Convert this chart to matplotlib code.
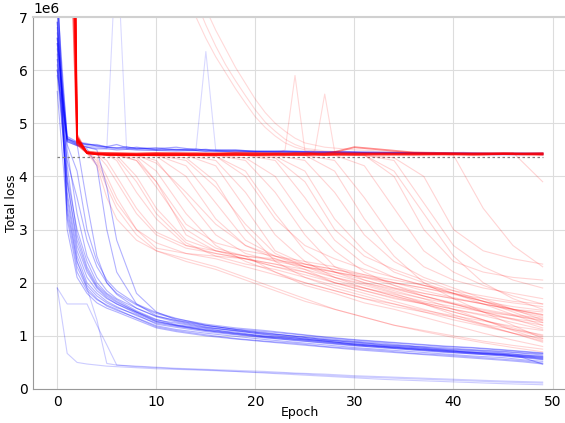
import matplotlib
matplotlib.use("Agg")
import matplotlib.pyplot as plt
import numpy as np

# epochs used by each group of runs (in units of 1e6)
band_epochs = [0, 1, 2, 3, 4, 5, 6, 8, 10, 12, 15, 18, 21, 24, 27, 30, 33, 36, 39, 42, 45, 47, 49]
plateau_epochs = [0, 1, 2, 3, 4, 5, 6, 7, 8, 10, 12, 14, 15, 16, 18, 20, 23, 26, 29, 32, 35, 38, 41, 44, 47, 49]
escape_epochs = [0, 1, 2, 3, 4, 5, 6, 8, 10, 13, 16, 19, 22, 25, 28, 31, 34, 37, 40, 43, 46, 49]
red_flat_epochs = [0, 1, 2, 3, 4, 5, 6, 8, 10, 12, 14, 16, 18, 20, 22, 23, 24, 25, 26, 27, 28, 30, 33, 36, 39, 42, 45, 47, 49]
red_high_epochs = [0, 1, 2, 3, 4, 6, 8, 10, 12, 13, 14, 15, 16, 17, 18, 19, 20, 21, 22, 23, 24, 25, 27, 30, 35, 40, 45, 49]

# blue runs that converge to the low band
blue_band = [
    [6.3, 3.6, 2.5, 2.0, 1.8, 1.65, 1.55, 1.38, 1.24, 1.18, 1.1, 1.04, 0.98, 0.93, 0.89, 0.83, 0.79, 0.75, 0.71, 0.68, 0.64, 0.61, 0.58],
    [6.8, 4.2, 2.9, 2.3, 1.95, 1.78, 1.65, 1.45, 1.3, 1.24, 1.15, 1.1, 1.05, 0.99, 0.93, 0.89, 0.83, 0.8, 0.75, 0.72, 0.68, 0.64, 0.62],
    [7.4, 3.2, 2.2, 1.85, 1.68, 1.58, 1.5, 1.33, 1.17, 1.1, 1.02, 0.95, 0.9, 0.86, 0.8, 0.76, 0.72, 0.67, 0.64, 0.6, 0.56, 0.53, 0.49],
    [5.9, 3.9, 2.7, 2.2, 1.9, 1.72, 1.6, 1.44, 1.27, 1.2, 1.12, 1.07, 0.99, 0.96, 0.9, 0.85, 0.81, 0.78, 0.73, 0.69, 0.65, 0.63, 0.59],
    [6.6, 4.5, 3.3, 2.5, 2.1, 1.85, 1.7, 1.52, 1.37, 1.29, 1.19, 1.13, 1.08, 1.03, 0.97, 0.92, 0.88, 0.84, 0.8, 0.77, 0.73, 0.7, 0.67],
    [7.8, 3.0, 2.1, 1.8, 1.62, 1.52, 1.45, 1.3, 1.15, 1.08, 1.0, 0.94, 0.89, 0.84, 0.79, 0.74, 0.7, 0.66, 0.62, 0.58, 0.54, 0.51, 0.47],
    [6.1, 4.0, 3.0, 2.4, 2.0, 1.8, 1.68, 1.47, 1.31, 1.21, 1.14, 1.05, 1.0, 0.94, 0.91, 0.84, 0.8, 0.76, 0.73, 0.68, 0.65, 0.6, 0.56],
    [6.4, 4.7, 4.6, 3.5, 2.5, 2.0, 1.78, 1.52, 1.36, 1.26, 1.16, 1.09, 1.03, 0.97, 0.92, 0.88, 0.84, 0.8, 0.76, 0.73, 0.7, 0.67, 0.64],
    [6.7, 4.65, 4.58, 4.52, 4.2, 3.0, 2.2, 1.6, 1.38, 1.28, 1.17, 1.1, 1.02, 0.96, 0.9, 0.85, 0.8, 0.76, 0.72, 0.69, 0.66, 0.62, 0.6],
    [7.1, 3.4, 2.4, 1.95, 1.75, 1.62, 1.53, 1.4, 1.22, 1.16, 1.08, 1.02, 0.96, 0.92, 0.86, 0.81, 0.78, 0.73, 0.69, 0.66, 0.62, 0.59, 0.55],
    [6.0, 4.3, 3.6, 2.8, 2.3, 2.0, 1.8, 1.58, 1.42, 1.32, 1.22, 1.15, 1.1, 1.04, 0.98, 0.93, 0.89, 0.85, 0.81, 0.78, 0.74, 0.71, 0.68],
    [6.9, 3.7, 2.6, 2.1, 1.85, 1.7, 1.6, 1.42, 1.26, 1.19, 1.1, 1.03, 0.97, 0.91, 0.87, 0.82, 0.77, 0.74, 0.7, 0.66, 0.63, 0.59, 0.47],
    [6.2, 4.68, 4.6, 4.55, 4.5, 3.8, 2.8, 1.8, 1.45, 1.3, 1.2, 1.12, 1.06, 0.99, 0.93, 0.87, 0.82, 0.78, 0.74, 0.7, 0.67, 0.64, 0.61],
    [7.6, 3.9, 2.8, 2.25, 1.92, 1.75, 1.63, 1.45, 1.28, 1.2, 1.11, 1.05, 0.98, 0.94, 0.88, 0.83, 0.79, 0.75, 0.71, 0.67, 0.64, 0.61, 0.57],
    [6.5, 4.6, 4.1, 3.0, 2.4, 2.05, 1.85, 1.6, 1.44, 1.33, 1.2, 1.12, 1.04, 1.0, 0.95, 0.9, 0.86, 0.81, 0.78, 0.74, 0.71, 0.68, 0.66],
    [5.6, 3.3, 2.3, 1.9, 1.7, 1.56, 1.48, 1.34, 1.19, 1.12, 1.05, 0.99, 0.93, 0.88, 0.83, 0.78, 0.74, 0.7, 0.66, 0.62, 0.59, 0.55, 0.52],
]

# blue runs that end near the bottom
blue_low = [
    [1.9, 0.67, 0.5, 0.47, 0.45, 0.43, 0.42, 0.4, 0.38, 0.37, 0.35, 0.33, 0.31, 0.29, 0.26, 0.23, 0.21, 0.19, 0.17, 0.15, 0.13, 0.12, 0.11],
    [1.9, 1.6, 1.6, 1.6, 1.2, 0.83, 0.45, 0.42, 0.4, 0.38, 0.36, 0.33, 0.3, 0.27, 0.24, 0.21, 0.18, 0.16, 0.14, 0.12, 0.1, 0.09, 0.08],
    [6.5, 3.5, 2.4, 1.9, 1.3, 0.48, 0.45, 0.43, 0.41, 0.39, 0.37, 0.35, 0.33, 0.3, 0.28, 0.25, 0.23, 0.21, 0.19, 0.17, 0.15, 0.14, 0.13],
]

# blue runs stuck on the plateau
blue_plateau = [
    [6.9, 4.75, 4.65, 4.6, 4.58, 4.56, 4.6, 4.54, 4.53, 4.52, 4.55, 4.5, 4.51, 4.49, 4.5, 4.47, 4.48, 4.46, 4.47, 4.45, 4.44, 4.45, 4.43, 4.44, 4.43, 4.42],
    [6.0, 4.66, 4.58, 4.55, 4.52, 4.52, 4.5, 4.51, 4.5, 4.49, 4.48, 4.49, 4.47, 4.48, 4.46, 4.46, 4.45, 4.44, 4.44, 4.43, 4.43, 4.42, 4.42, 4.41, 4.41, 4.42],
    [7.3, 4.7, 4.64, 4.62, 4.57, 4.55, 4.54, 4.52, 4.55, 4.5, 4.51, 4.49, 4.5, 4.47, 4.48, 4.46, 4.47, 4.45, 4.46, 4.44, 4.44, 4.43, 4.43, 4.42, 4.43, 4.41],
    [6.6, 4.72, 4.62, 4.6, 4.6, 4.55, 4.53, 4.56, 4.52, 4.54, 4.5, 4.52, 4.49, 4.5, 4.49, 4.48, 4.47, 4.47, 4.45, 4.46, 4.45, 4.44, 4.45, 4.43, 4.44, 4.44],
]

# blue plateau runs with a single spike
blue_spikes = [
    [6.5, 4.72, 4.62, 4.58, 4.55, 4.52, 8.5, 4.52, 4.5, 4.49, 4.5, 4.48, 4.47, 4.48, 4.46, 4.47, 4.45, 4.46, 4.44, 4.45, 4.44, 4.43, 4.44, 4.43, 4.44, 4.43],
    [6.2, 4.68, 4.6, 4.56, 4.55, 4.54, 4.53, 4.55, 4.52, 4.51, 4.5, 4.5, 6.35, 4.49, 4.48, 4.47, 4.46, 4.45, 4.45, 4.44, 4.45, 4.43, 4.43, 4.42, 4.42, 4.44],
]

# red runs that stay on the plateau
red_flat = [
    [12, 20, 4.62, 4.45, 4.43, 4.43, 4.43, 4.42, 4.42, 4.43, 4.42, 4.43, 4.42, 4.43, 4.42, 4.43, 4.42, 4.43, 4.42, 4.43, 4.42, 4.43, 4.42, 4.43, 4.42, 4.43, 4.42, 4.43, 4.43],
    [12, 11, 4.6, 4.44, 4.42, 4.41, 4.42, 4.41, 4.42, 4.41, 4.42, 4.41, 4.42, 4.41, 4.42, 4.41, 4.42, 4.41, 4.42, 4.41, 4.42, 4.41, 4.42, 4.41, 4.42, 4.41, 4.42, 4.41, 4.41],
    [13, 18, 4.68, 4.46, 4.44, 4.44, 4.43, 4.43, 4.44, 4.44, 4.43, 4.43, 4.45, 4.44, 4.43, 4.43, 4.44, 4.44, 4.43, 4.43, 4.46, 4.55, 4.5, 4.45, 4.44, 4.43, 4.44, 4.43, 4.43],
    [13, 14, 4.64, 4.45, 4.43, 4.42, 4.42, 4.41, 4.42, 4.42, 4.41, 4.42, 4.42, 4.41, 4.42, 4.42, 4.41, 4.42, 4.42, 4.41, 4.42, 4.42, 4.41, 4.42, 4.42, 4.41, 4.42, 4.42, 4.41],
    [14, 22, 4.66, 4.47, 4.45, 4.44, 4.44, 4.43, 4.44, 4.43, 4.44, 4.43, 4.44, 4.43, 4.44, 4.43, 4.44, 4.43, 4.44, 4.43, 4.44, 4.43, 4.44, 4.43, 4.44, 4.43, 4.44, 4.43, 4.44],
]

# red plateau runs with a single spike
red_spikes = [
    [13, 16, 4.66, 4.45, 4.43, 4.42, 4.41, 4.42, 4.41, 4.42, 4.41, 4.42, 4.43, 4.41, 4.42, 4.5, 5.9, 4.48, 4.42, 4.41, 4.42, 4.41, 4.42, 4.41, 4.42, 4.41, 4.42, 4.42, 4.41],
    [14, 23, 4.7, 4.46, 4.43, 4.42, 4.42, 4.41, 4.42, 4.41, 4.42, 4.41, 4.42, 4.43, 4.42, 4.41, 4.42, 4.41, 4.48, 5.55, 4.47, 4.42, 4.43, 4.42, 4.41, 4.42, 4.41, 4.42, 4.42],
]

# red runs starting very high and reaching the plateau late
red_high = [
    [14, 13.5, 13, 12.5, 12, 11, 10, 9.2, 8.0, 7.5, 7.0, 6.6, 6.25, 5.95, 5.65, 5.38, 5.12, 4.92, 4.76, 4.63, 4.55, 4.5, 4.46, 4.44, 4.43, 4.42, 4.42, 4.41],
    [14, 13.8, 13.3, 12.8, 12.3, 11.4, 10.4, 9.6, 8.4, 7.8, 7.3, 6.85, 6.45, 6.1, 5.8, 5.52, 5.25, 5.02, 4.85, 4.7, 4.6, 4.53, 4.48, 4.45, 4.44, 4.43, 4.42, 4.42],
    [15, 14.5, 14, 13.5, 13, 12, 11, 10, 8.8, 8.2, 7.6, 7.15, 6.75, 6.4, 6.05, 5.75, 5.45, 5.2, 5.0, 4.85, 4.72, 4.63, 4.55, 4.5, 4.46, 4.44, 4.43, 4.42],
]

# red runs that leave the plateau at different epochs
red_escape = [
    [13, 15, 4.7, 4.44, 4.3, 3.9, 3.5, 3.0, 2.75, 2.55, 2.45, 2.3, 2.15, 2.0, 1.85, 1.7, 1.55, 1.45, 1.35, 1.22, 1.12, 1.02],
    [12, 18, 4.75, 4.45, 4.42, 4.2, 3.9, 3.3, 2.9, 2.65, 2.55, 2.45, 2.3, 2.2, 2.05, 1.9, 1.75, 1.6, 1.45, 1.3, 1.15, 1.0],
    [13, 21, 4.72, 4.44, 4.42, 4.41, 4.3, 3.7, 3.2, 2.7, 2.55, 2.45, 2.35, 2.25, 2.1, 1.98, 1.82, 1.7, 1.6, 1.48, 1.38, 1.28],
    [14, 12, 4.68, 4.43, 4.41, 4.4, 4.4, 4.0, 3.4, 2.8, 2.6, 2.5, 2.2, 1.95, 1.8, 1.62, 1.5, 1.35, 1.2, 1.05, 0.92, 0.8],
    [12, 24, 4.8, 4.45, 4.43, 4.42, 4.41, 4.3, 3.8, 3.0, 2.65, 2.5, 2.42, 2.35, 2.2, 2.1, 2.0, 1.9, 1.78, 1.65, 1.55, 1.48],
    [13, 16, 4.7, 4.44, 4.42, 4.41, 4.41, 4.38, 4.1, 3.3, 2.7, 2.4, 2.2, 2.0, 1.85, 1.7, 1.6, 1.48, 1.38, 1.28, 1.18, 1.1],
    [13, 19, 4.73, 4.44, 4.42, 4.41, 4.4, 4.4, 4.3, 3.6, 2.9, 2.55, 2.4, 2.3, 2.2, 2.1, 1.95, 1.8, 1.7, 1.6, 1.5, 1.4],
    [14, 22, 4.76, 4.45, 4.43, 4.41, 4.41, 4.4, 4.38, 4.0, 3.2, 2.7, 2.45, 2.25, 2.0, 1.85, 1.72, 1.6, 1.4, 1.22, 1.05, 0.88],
    [12, 10, 4.66, 4.43, 4.41, 4.4, 4.4, 4.4, 4.4, 4.2, 3.5, 2.8, 2.5, 2.35, 2.25, 2.12, 2.0, 1.9, 1.8, 1.7, 1.62, 1.55],
    [13, 17, 4.71, 4.44, 4.42, 4.41, 4.41, 4.4, 4.4, 4.35, 3.9, 3.0, 2.4, 2.1, 1.9, 1.75, 1.6, 1.45, 1.3, 1.18, 1.05, 0.95],
    [13, 25, 4.8, 4.46, 4.43, 4.42, 4.41, 4.41, 4.4, 4.4, 4.2, 3.4, 2.6, 2.35, 2.25, 2.15, 2.05, 1.95, 1.85, 1.75, 1.65, 1.6],
    [14, 14, 4.69, 4.43, 4.41, 4.4, 4.4, 4.4, 4.4, 4.4, 4.3, 3.7, 2.9, 2.4, 2.1, 1.9, 1.75, 1.62, 1.5, 1.4, 1.32, 1.25],
    [12, 20, 4.74, 4.45, 4.42, 4.41, 4.41, 4.4, 4.4, 4.4, 4.38, 4.1, 3.3, 2.6, 2.2, 2.0, 1.85, 1.7, 1.5, 1.3, 1.1, 0.92],
    [13, 11, 4.67, 4.43, 4.41, 4.4, 4.4, 4.4, 4.4, 4.4, 4.4, 4.3, 3.7, 2.9, 2.3, 2.05, 1.9, 1.8, 1.7, 1.6, 1.5, 1.45],
    [13, 23, 4.78, 4.45, 4.43, 4.42, 4.41, 4.41, 4.4, 4.4, 4.4, 4.35, 4.0, 3.2, 2.6, 2.2, 1.95, 1.75, 1.6, 1.45, 1.3, 1.2],
    [14, 18, 4.72, 4.44, 4.42, 4.41, 4.4, 4.4, 4.4, 4.4, 4.4, 4.4, 4.3, 3.6, 2.8, 2.35, 2.1, 1.95, 1.8, 1.65, 1.5, 1.38],
    [12, 15, 4.7, 4.44, 4.42, 4.41, 4.4, 4.4, 4.4, 4.4, 4.4, 4.4, 4.38, 4.1, 3.2, 2.6, 2.2, 2.0, 1.8, 1.6, 1.4, 1.2],
    [13, 21, 4.75, 4.45, 4.42, 4.41, 4.41, 4.4, 4.4, 4.4, 4.4, 4.4, 4.4, 4.3, 3.7, 2.9, 2.4, 2.1, 1.9, 1.7, 1.5, 1.3],
    [13, 12, 4.68, 4.43, 4.41, 4.4, 4.4, 4.4, 4.4, 4.4, 4.4, 4.4, 4.4, 4.4, 4.3, 3.6, 2.8, 2.3, 2.05, 1.9, 1.8, 1.7],
    [14, 19, 4.73, 4.44, 4.42, 4.41, 4.41, 4.4, 4.4, 4.4, 4.4, 4.4, 4.4, 4.4, 4.4, 4.2, 3.4, 2.6, 2.2, 1.95, 1.75, 1.6],
    [12, 16, 4.71, 4.44, 4.42, 4.41, 4.4, 4.4, 4.4, 4.4, 4.4, 4.4, 4.4, 4.4, 4.4, 4.4, 4.0, 3.0, 2.4, 2.2, 2.1, 2.05],
    [13, 22, 4.76, 4.45, 4.42, 4.41, 4.41, 4.4, 4.4, 4.4, 4.4, 4.4, 4.4, 4.4, 4.4, 4.4, 4.35, 4.0, 3.0, 2.6, 2.45, 2.35],
    [13, 13, 4.69, 4.43, 4.41, 4.4, 4.4, 4.4, 4.4, 4.4, 4.4, 4.4, 4.4, 4.4, 4.4, 4.4, 4.4, 4.4, 4.4, 3.4, 2.7, 2.3],
    [14, 20, 4.74, 4.44, 4.42, 4.41, 4.41, 4.4, 4.4, 4.4, 4.4, 4.4, 4.4, 4.4, 4.4, 4.4, 4.4, 4.4, 4.4, 4.4, 4.45, 3.9],
    [12, 17, 4.72, 4.44, 4.2, 3.6, 3.2, 2.8, 2.6, 2.45, 2.3, 2.1, 1.9, 1.7, 1.5, 1.35, 1.2, 1.08, 0.97, 0.87, 0.78, 0.7],
    [13, 14, 4.7, 4.44, 4.42, 4.41, 4.4, 4.35, 3.9, 2.9, 2.6, 2.45, 2.3, 2.15, 2.0, 1.9, 1.78, 1.65, 1.55, 1.45, 1.38, 1.3],
    [13, 16, 4.7, 4.44, 4.35, 4.0, 3.6, 3.0, 2.65, 2.55, 2.5, 2.45, 2.35, 2.2, 2.0, 1.85, 1.7, 1.6, 1.45, 1.3, 1.12, 0.98],
    [12, 19, 4.73, 4.44, 4.42, 4.3, 4.0, 3.4, 2.95, 2.7, 2.6, 2.5, 2.45, 2.3, 2.2, 2.05, 1.9, 1.75, 1.6, 1.45, 1.32, 1.15],
    [13, 21, 4.75, 4.45, 4.42, 4.41, 4.35, 3.9, 3.3, 2.75, 2.5, 2.35, 2.25, 2.1, 1.95, 1.8, 1.65, 1.5, 1.35, 1.2, 1.05, 0.9],
    [14, 13, 4.68, 4.43, 4.41, 4.4, 4.4, 4.3, 3.9, 3.1, 2.75, 2.6, 2.5, 2.4, 2.3, 2.15, 2.0, 1.85, 1.72, 1.6, 1.48, 1.35],
    [13, 17, 4.71, 4.44, 4.42, 4.41, 4.4, 4.4, 4.25, 3.7, 3.1, 2.7, 2.5, 2.3, 2.1, 1.95, 1.8, 1.62, 1.5, 1.38, 1.25, 1.12],
    [12, 22, 4.76, 4.45, 4.42, 4.41, 4.41, 4.4, 4.4, 4.3, 3.8, 3.1, 2.55, 2.3, 2.15, 2.0, 1.88, 1.75, 1.62, 1.5, 1.4, 1.33],
    [13, 15, 4.7, 4.44, 4.42, 4.41, 4.4, 4.4, 4.4, 4.4, 4.38, 4.0, 3.2, 2.7, 2.45, 2.25, 2.1, 1.95, 1.8, 1.65, 1.5, 1.4],
    [14, 18, 4.72, 4.44, 4.42, 4.41, 4.4, 4.4, 4.4, 4.4, 4.4, 4.4, 4.35, 3.9, 3.0, 2.5, 2.25, 2.05, 1.85, 1.65, 1.45, 1.25],
    [13, 20, 4.74, 4.45, 4.42, 4.41, 4.41, 4.4, 4.4, 4.4, 4.4, 4.4, 4.4, 4.4, 4.1, 3.2, 2.5, 2.0, 1.7, 1.45, 1.2, 0.95],
    [12, 14, 4.69, 4.43, 4.41, 4.4, 4.4, 4.4, 4.4, 4.4, 4.4, 4.4, 4.4, 4.4, 4.4, 4.4, 4.3, 3.5, 2.7, 2.3, 2.05, 1.9],
    [13, 19, 4.73, 4.44, 4.42, 4.41, 4.41, 4.4, 4.4, 4.4, 4.4, 4.4, 4.4, 4.4, 4.4, 4.4, 4.1, 3.3, 2.5, 2.0, 1.7, 1.5],
    [14, 16, 4.7, 4.44, 4.25, 3.8, 3.4, 2.9, 2.6, 2.4, 2.25, 2.05, 1.85, 1.65, 1.5, 1.35, 1.2, 1.1, 1.0, 0.9, 0.82, 0.75],
]

reference_loss = 4.37  # dashed line
scale = 1e6

fig = plt.figure(figsize=(5.65, 4.23), dpi=100)
ax = fig.add_axes([0.0584, 0.0804, 0.945, 0.8794])

for run in blue_band:
    ax.plot(band_epochs, np.array(run) * scale, color='blue', alpha=0.3, lw=0.8)
for run in blue_low:
    ax.plot(band_epochs, np.array(run) * scale, color='blue', alpha=0.2, lw=0.8)
for run in blue_plateau:
    ax.plot(plateau_epochs, np.array(run) * scale, color='blue', alpha=0.35, lw=0.9)
for run in blue_spikes:
    ax.plot(plateau_epochs, np.array(run) * scale, color='blue', alpha=0.15, lw=0.8)

ax.hlines(reference_loss * scale, band_epochs[0], band_epochs[-1],
          colors='gray', linestyles=(0, (2, 2)), lw=0.9)

for run in red_escape:
    ax.plot(escape_epochs, np.array(run) * scale, color='red', alpha=0.17, lw=0.8)
for run in red_high:
    ax.plot(red_high_epochs, np.array(run) * scale, color='red', alpha=0.15, lw=0.8)
for run in red_spikes:
    ax.plot(red_flat_epochs, np.array(run) * scale, color='red', alpha=0.15, lw=0.8)
for run in red_flat:
    ax.plot(red_flat_epochs, np.array(run) * scale, color='red', alpha=0.45, lw=1.3)

ax.set_ylim(0, 7 * scale)
ax.set_xlabel('Epoch', fontsize=9)
ax.set_ylabel('Total loss', fontsize=9)
ax.xaxis.set_label_coords(0.5, -0.045)
ax.yaxis.set_label_coords(-0.028, 0.5)
ax.grid(True, color='#dddddd', lw=0.8)
ax.set_axisbelow(True)
ax.tick_params(length=0, labelsize=10, pad=4)
for side in ['left', 'bottom']:
    ax.spines[side].set_color('#999999')
ax.spines['top'].set_color('#d0d0d0')
ax.spines['top'].set_linewidth(1.5)
ax.spines['right'].set_visible(False)

fig.savefig('out.png', dpi=100)
